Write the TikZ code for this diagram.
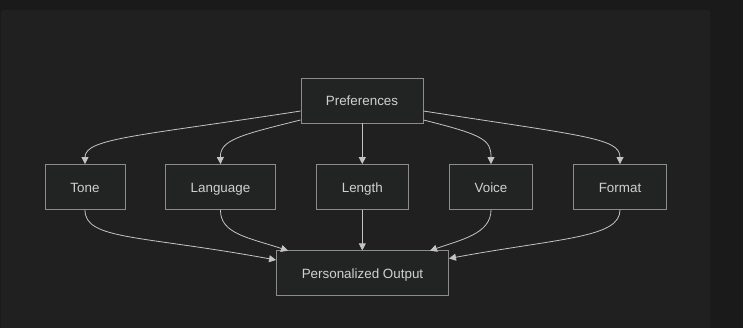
\documentclass[tikz,border=0pt]{standalone}
\usepackage{fontspec}
\setmainfont{Liberation Sans}
\usetikzlibrary{arrows.meta}
\definecolor{outerbg}{HTML}{1A1A1A}
\definecolor{panelbg}{HTML}{202020}
\definecolor{nodefill}{HTML}{222423}
\definecolor{nodeborder}{HTML}{8C8C8C}
\definecolor{edgecol}{HTML}{C4C4C4}
\definecolor{textcol}{HTML}{D0D0D0}
\tikzset{
  box/.style={draw=nodeborder, fill=nodefill, line width=0.9pt, minimum height=45pt,
    inner sep=0pt, text height=12pt, text depth=1.4pt, text=textcol,
    font=\fontsize{13.4}{15}\selectfont},
  edge/.style={draw=edgecol, line width=0.8pt,
    -{Triangle[length=7pt,width=7pt,fill=edgecol]}}
}
\begin{document}
\begin{tikzpicture}[x=1pt,y=-1pt]
\useasboundingbox (0,0) rectangle (743,327);
\fill[outerbg] (-20,-20) rectangle (770,360);
\fill[panelbg, rounded corners=3pt] (1,10) rectangle (710.5,360);

\node[box, minimum width=122pt] (pref) at (362,100.5) {Preferences};
\node[box, minimum width=80pt] (tone) at (85,187) {Tone};
\node[box, minimum width=110pt] (lang) at (220.5,187) {Language};
\node[box, minimum width=92pt] (len) at (362.3,187) {Length};
\node[box, minimum width=83pt] (voice) at (491,187) {Voice};
\node[box, minimum width=93pt] (fmt) at (620,187) {Format};
\node[box, minimum width=172pt] (out) at (362.5,273.3) {Personalized Output};

\coordinate (p1) at (pref.west |- 0,111);
\coordinate (p2) at (pref.west |- 0,120);
\coordinate (p3) at (pref.east |- 0,120);
\coordinate (p4) at (pref.east |- 0,111);
\coordinate (o1) at (out.west |- 0,260);
\coordinate (o2) at (288,250.7);
\coordinate (o4) at (430,250.7);
\coordinate (o5) at (out.east |- 0,258.5);

\draw[edge] (p1) .. controls (140,136) and (85,138) .. (tone.north);
\draw[edge] (p2) .. controls (240,135) and (220,140) .. (lang.north);
\draw[edge] (pref.south -| len.north) -- (len.north);
\draw[edge] (p3) .. controls (484,135) and (491,140) .. (voice.north);
\draw[edge] (p4) .. controls (584,136) and (620,138) .. (fmt.north);

\draw[edge] (tone.south) .. controls (85,240) and (140,235) .. (o1);
\draw[edge] (lang.south) .. controls (220,234) and (250,238) .. (o2);
\draw[edge] (len.south) -- (len.south |- out.north);
\draw[edge] (voice.south) .. controls (491,234) and (460,240) .. (o4);
\draw[edge] (fmt.south) .. controls (620,238) and (560,238) .. (o5);
\end{tikzpicture}
\end{document}
